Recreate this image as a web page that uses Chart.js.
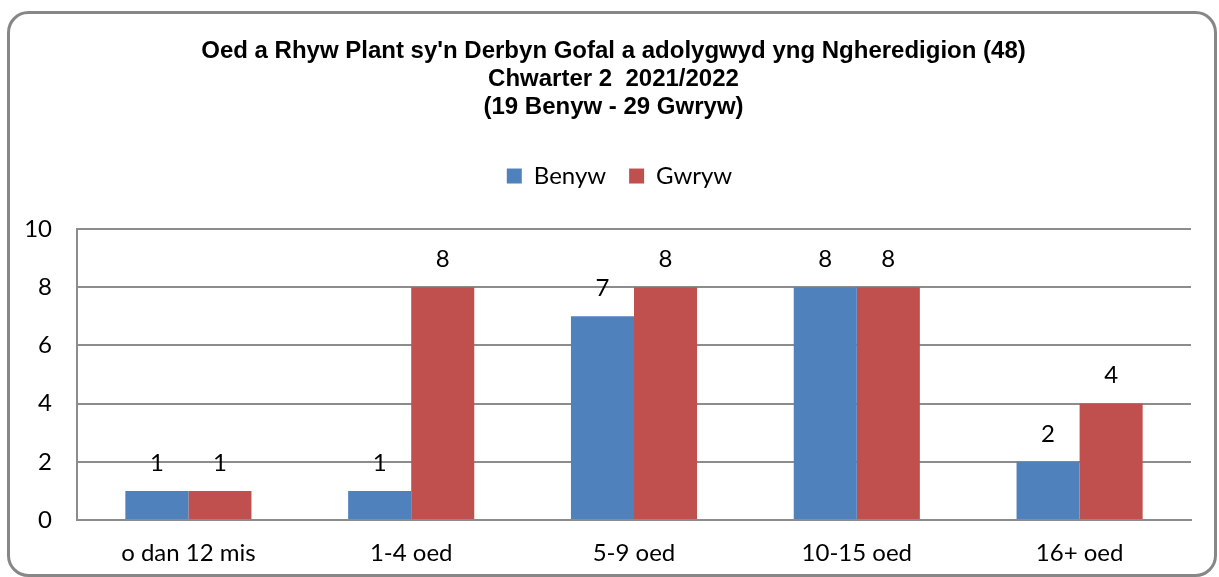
<!DOCTYPE html>
<html><head><meta charset="utf-8">
<script src="https://cdn.jsdelivr.net/npm/chart.js@4/dist/chart.umd.min.js"></script>
<style>html,body{margin:0;padding:0;background:#fff}#wrap{width:1219px;height:577px}</style>
</head><body><div id="wrap"><canvas id="c" width="1219" height="577"></canvas></div>
<script>
const categories = ["o dan 12 mis", "1-4 oed", "5-9 oed", "10-15 oed", "16+ oed"];
const benyw = [1, 1, 7, 8, 2];
const gwryw = [1, 8, 8, 8, 4];
const titleLines = ["Oed a Rhyw Plant sy'n Derbyn Gofal a adolygwyd yng Ngheredigion (48)", "Chwarter 2  2021/2022", "(19 Benyw - 29 Gwryw)"];
const yTicks = [0, 2, 4, 6, 8, 10];

const framePlugin = {
  id: 'frame',
  beforeUpdate(chart) {
    if (chart.legend && !chart.legend._patched) {
      const orig = chart.legend.fit;
      chart.legend.fit = function () { orig.call(this); this.height += 31; };
      chart.legend._patched = true;
    }
  },
  afterLayout(chart) {
    if (chart.titleBlock) chart.titleBlock.left += 36;
    if (chart.legend) chart.legend.left += 48;
  },
  beforeDraw(chart) {
    const ctx = chart.ctx;
    ctx.save();
    ctx.fillStyle = '#fff';
    ctx.fillRect(0, 0, chart.width, chart.height);
    ctx.strokeStyle = '#878787';
    ctx.lineWidth = 3;
    ctx.beginPath();
    ctx.roundRect(8.5, 12.5, 1207, 563, 20);
    ctx.stroke();
    ctx.restore();
  }
};
const labelPlugin = {
  id: 'vals',
  afterDatasetsDraw(chart) {
    const ctx = chart.ctx;
    ctx.save();
    ctx.font = '24px Lato';
    ctx.fillStyle = '#000';
    ctx.textAlign = 'center';
    ctx.textBaseline = 'middle';
    chart.data.datasets.forEach((ds, i) => {
      chart.getDatasetMeta(i).data.forEach((bar, j) => {
        ctx.fillText(String(ds.data[j]), bar.x, bar.y - 28);
      });
    });
    ctx.restore();
  }
};

new Chart(document.getElementById('c'), {
  type: 'bar',
  data: {
    labels: categories,
    datasets: [
      { label: 'Benyw', data: benyw, backgroundColor: '#4F81BD', categoryPercentage: 0.566, barPercentage: 1 },
      { label: 'Gwryw', data: gwryw, backgroundColor: '#C0504D', categoryPercentage: 0.566, barPercentage: 1 }
    ]
  },
  options: {
    responsive: false,
    animation: false,
    devicePixelRatio: 1,
    layout: { padding: { top: 22, right: 28, bottom: 0, left: 0 } },
    plugins: {
      title: {
        display: true,
        text: titleLines,
        color: '#000',
        font: { family: '"Liberation Sans", Arial, sans-serif', size: 24, weight: 'bold', lineHeight: 1.167 },
        padding: { top: 15, bottom: 20 }
      },
      legend: {
        display: true,
        labels: {
          color: '#000',
          font: { family: 'Lato', size: 24 },
          boxWidth: 15, boxHeight: 15, padding: 23
        }
      },
      tooltip: { enabled: false }
    },
    scales: {
      x: {
        grid: { display: false, drawTicks: false },
        border: { color: '#8c8c8c', width: 2 },
        ticks: { color: '#000', font: { family: 'Lato', size: 24 }, padding: 19, maxRotation: 0 },
        afterFit(s) { s.height = 57; }
      },
      y: {
        min: 0, max: 10,
        afterBuildTicks(s) { s.ticks = yTicks.map(v => ({ value: v })); },
        grid: { color: '#8c8c8c', lineWidth: 2, drawTicks: false },
        border: { color: '#8c8c8c', width: 2 },
        ticks: { color: '#000', font: { family: 'Lato', size: 24 }, padding: 25 },
        afterFit(s) { s.width = 77; }
      }
    }
  },
  plugins: [framePlugin, labelPlugin]
});
</script></body></html>
